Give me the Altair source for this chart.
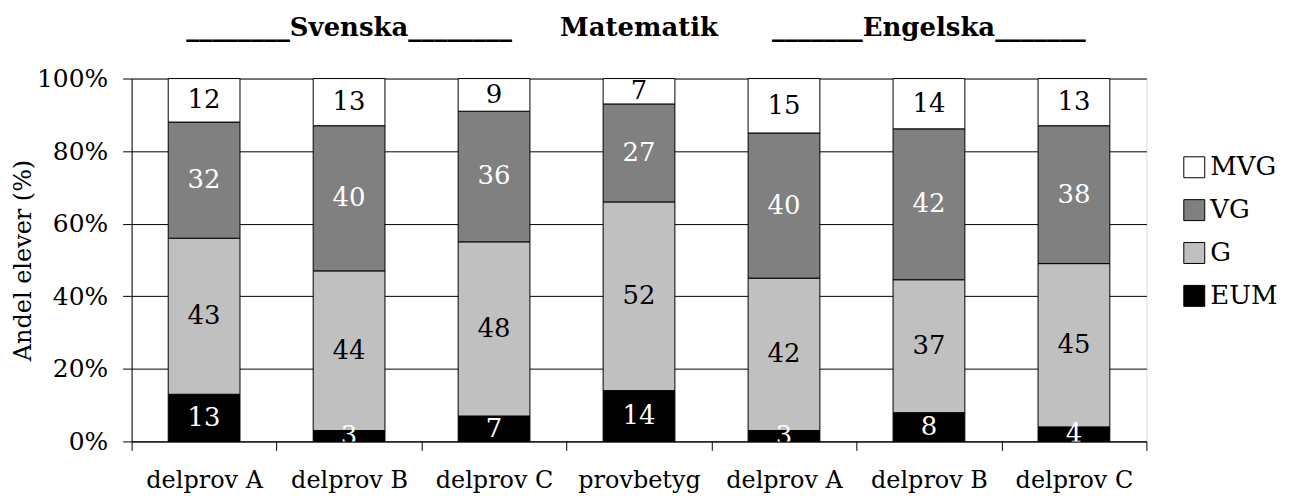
import json
import altair as alt
import pandas as pd

# ---- data ----
categories = ["delprov A", "delprov B", "delprov C", "provbetyg",
              "delprov A", "delprov B", "delprov C"]
grades = ["EUM", "G", "VG", "MVG"]          # stacking order, bottom to top
eum = [13, 3, 7, 14, 3, 8, 4]
g = [43, 44, 48, 52, 42, 37, 45]
vg = [32, 40, 36, 27, 40, 42, 38]
mvg = [12, 13, 9, 7, 15, 14, 13]
subjects = ["________Svenska________", "Matematik", "_______Engelska_______"]
subject_bar = [1, 3, 5]                       # middle bar of each subject group

legend_order = ["MVG", "VG", "G", "EUM"]
fill_colors = ["#ffffff", "#808080", "#c0c0c0", "#000000"]
label_on_dark = ["EUM", "VG"]

rows = []
for i in range(len(categories)):
    for k, (name, vals) in enumerate(zip(grades, [eum, g, vg, mvg])):
        rows.append({"idx": i, "grade": name, "order": k, "value": vals[i],
                     "dark": name in label_on_dark})
df = pd.DataFrame(rows)
titles_df = pd.DataFrame({"idx": subject_bar, "t": subjects})

FONT = "DejaVu Serif"
label_expr = json.dumps(categories) + "[datum.value]"

x_enc = alt.X(
    "idx:O", title=None,
    scale=alt.Scale(paddingInner=0, paddingOuter=0),
    axis=alt.Axis(labelExpr=label_expr, labelAngle=0, tickBand="extent",
                  tickSize=9, labelPadding=18, labelFontSize=24,
                  labelFont=FONT, labelColor="black", domainColor="black",
                  tickColor="black", grid=False),
)

base = alt.Chart(df).transform_stack(
    stack="value", groupby=["idx"], as_=["y0", "y1"], offset="normalize",
    sort=[alt.SortField("order", order="ascending")],
).transform_calculate(mid="(datum.y0 + datum.y1) / 2")

bars = base.mark_bar(size=72, stroke="black", strokeWidth=1).encode(
    x=x_enc,
    y=alt.Y(
        "y0:Q",
        scale=alt.Scale(domain=[0, 1], nice=False),
        axis=alt.Axis(format="%", values=[0, 0.2, 0.4, 0.6, 0.8, 1.0],
                      tickSize=9, labelPadding=15, labelFontSize=25,
                      labelFont=FONT, labelColor="black",
                      title="Andel elever (%)", titleFontSize=24,
                      titleFont=FONT, titleFontWeight="normal",
                      titleColor="black", titlePadding=1,
                      grid=True, gridColor="black", gridWidth=1,
                      domainColor="black", tickColor="black"),
    ),
    y2="y1:Q",
    color=alt.Color(
        "grade:N",
        scale=alt.Scale(domain=legend_order, range=fill_colors),
        legend=alt.Legend(title=None, orient="none", legendX=1053, legendY=76,
                          symbolType="square", symbolSize=441,
                          symbolStrokeColor="black", symbolStrokeWidth=1,
                          labelFontSize=26, labelFont=FONT, labelColor="black",
                          rowPadding=17, labelOffset=3),
    ),
)

text_dark = base.transform_filter("datum.dark").mark_text(
    fontSize=26, font=FONT, baseline="middle", color="white", clip=True
).encode(x=x_enc, y=alt.Y("mid:Q"), text="value:Q")

text_light = base.transform_filter("!datum.dark").mark_text(
    fontSize=26, font=FONT, baseline="middle", color="black", clip=True
).encode(x=x_enc, y=alt.Y("mid:Q"), text="value:Q")

titles = alt.Chart(titles_df).mark_text(
    fontSize=26, font=FONT, fontWeight="bold", baseline="alphabetic",
    align="center", color="black"
).encode(x=x_enc, y=alt.value(-43), text="t:N")

chart = alt.layer(bars, text_dark, text_light, titles).properties(
    width=1018, height=364,
    padding={"left": 124, "top": 70, "right": 135, "bottom": 56},
    autosize=alt.AutoSizeParams(type="none"),
).configure_view(stroke="black", strokeWidth=1).configure(font=FONT)

chart.save("out.html", embed_options={"renderer": "svg", "actions": False})
